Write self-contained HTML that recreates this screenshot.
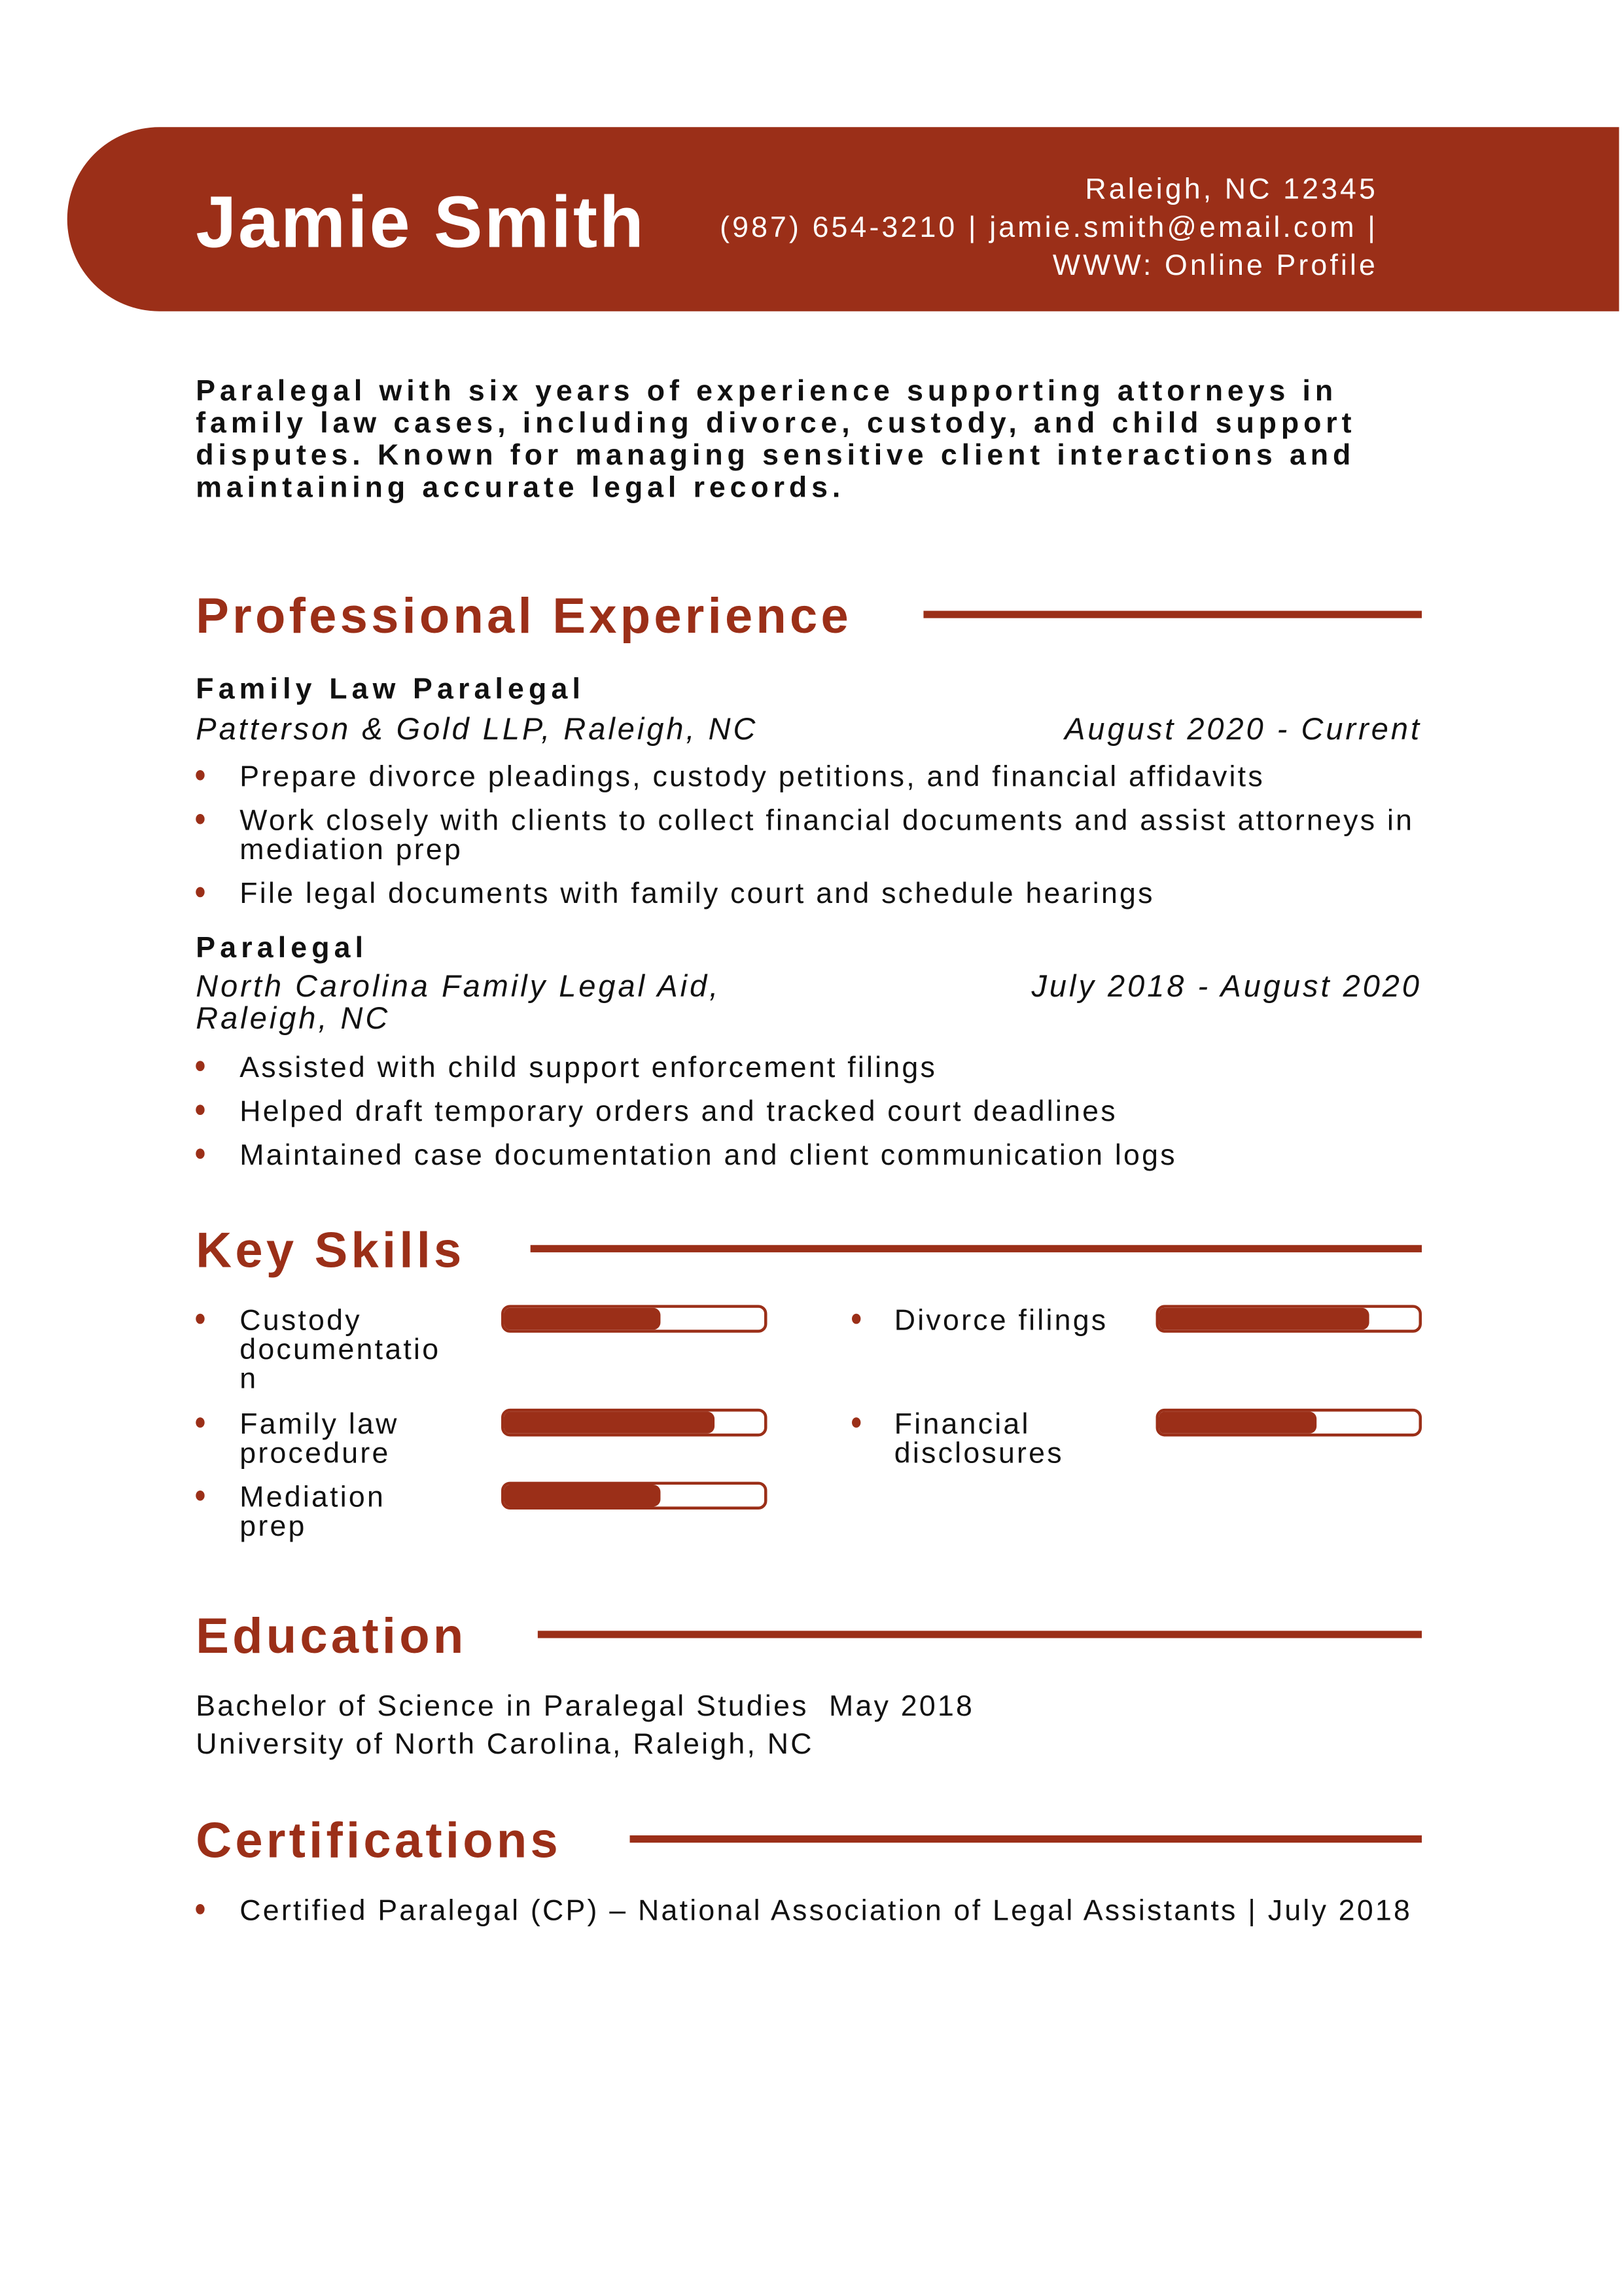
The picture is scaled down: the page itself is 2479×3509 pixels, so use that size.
<!DOCTYPE html>
<html><head><meta charset="utf-8"><style>
*{margin:0;padding:0;box-sizing:border-box}
html,body{width:2479px;height:3508px;background:#fff;overflow:hidden}
#w{position:absolute;left:0;top:0;width:1110px;height:1571px;transform:scale(2.2333);transform-origin:0 0;font-family:"Liberation Sans",sans-serif;color:#111}
.a{position:absolute;white-space:nowrap}
.band{position:absolute;left:46px;top:87px;width:1062px;height:126px;background:#9b2f18;border-radius:63px 0 0 63px}
.h{font-size:34px;line-height:34px;font-weight:bold;color:#9b2f18;letter-spacing:2.35px}
.ln{position:absolute;height:5px;background:#9b2f18}
.t{font-size:20px;line-height:20px;letter-spacing:1.45px}
.b{font-size:20px;line-height:20px;font-weight:bold;letter-spacing:3.2px}
.i{font-size:21px;line-height:22px;font-style:italic;letter-spacing:1.8px}
.d{position:absolute;width:6px;height:7px;border-radius:50%;background:#9b2f18}
.bar{position:absolute;width:182px;height:19px;border:2px solid #9b2f18;border-radius:6px;overflow:hidden}
.bar i{position:absolute;left:0;top:0;bottom:0;background:#9b2f18;border-radius:0 5px 5px 0}
</style></head><body><div id="w">
<div class="band"></div>
<div class="a" style="left:134px;top:127px;font-size:50px;line-height:50px;font-weight:bold;color:#fff;letter-spacing:1.2px">Jamie Smith</div>
<div class="a" style="right:167px;top:117px;font-size:20px;line-height:26px;color:#fff;text-align:right;letter-spacing:1.85px">Raleigh, NC 12345<br>(987) 654-3210 | jamie.smith@email.com |<br>WWW: Online Profile</div>
<div class="a" style="left:134px;top:257px;font-size:20px;line-height:22px;font-weight:bold;letter-spacing:3.1px">Paralegal with six years of experience supporting attorneys in<br>family law cases, including divorce, custody, and child support<br>disputes. Known for managing sensitive client interactions and<br>maintaining accurate legal records.</div>

<div class="a h" style="left:134px;top:405px">Professional Experience</div>
<div class="ln" style="left:632px;width:341px;top:418px"></div>
<div class="a b" style="left:134px;top:462px">Family Law Paralegal</div>
<div class="a i" style="left:134px;top:489px">Patterson &amp; Gold LLP, Raleigh, NC</div>
<div class="a i" style="right:137px;top:489px">August 2020 - Current</div>
<div class="d" style="left:134px;top:527px"></div><div class="a t" style="left:164px;top:522px">Prepare divorce pleadings, custody petitions, and financial affidavits</div>
<div class="d" style="left:134px;top:557px"></div><div class="a t" style="left:164px;top:552px">Work closely with clients to collect financial documents and assist attorneys in<br>mediation prep</div>
<div class="d" style="left:134px;top:607px"></div><div class="a t" style="left:164px;top:602px">File legal documents with family court and schedule hearings</div>
<div class="a b" style="left:134px;top:639px">Paralegal</div>
<div class="a i" style="left:134px;top:665px">North Carolina Family Legal Aid,<br>Raleigh, NC</div>
<div class="a i" style="right:137px;top:665px">July 2018 - August 2020</div>
<div class="d" style="left:134px;top:726px"></div><div class="a t" style="left:164px;top:721px">Assisted with child support enforcement filings</div>
<div class="d" style="left:134px;top:756px"></div><div class="a t" style="left:164px;top:751px">Helped draft temporary orders and tracked court deadlines</div>
<div class="d" style="left:134px;top:786px"></div><div class="a t" style="left:164px;top:781px">Maintained case documentation and client communication logs</div>

<div class="a h" style="left:134px;top:839px">Key Skills</div>
<div class="ln" style="left:363px;width:610px;top:852px"></div>
<div class="d" style="left:134px;top:899px"></div><div class="a t" style="left:164px;top:894px">Custody<br>documentatio<br>n</div>
<div class="bar" style="left:343px;top:893px"><i style="width:107px"></i></div>
<div class="d" style="left:583px;top:899px"></div><div class="a t" style="left:612px;top:894px">Divorce filings</div>
<div class="bar" style="left:791px;top:893px"><i style="width:144px"></i></div>
<div class="d" style="left:134px;top:970px"></div><div class="a t" style="left:164px;top:965px">Family law<br>procedure</div>
<div class="bar" style="left:343px;top:964px"><i style="width:144px"></i></div>
<div class="d" style="left:583px;top:970px"></div><div class="a t" style="left:612px;top:965px">Financial<br>disclosures</div>
<div class="bar" style="left:791px;top:964px"><i style="width:108px"></i></div>
<div class="d" style="left:134px;top:1020px"></div><div class="a t" style="left:164px;top:1015px">Mediation<br>prep</div>
<div class="bar" style="left:343px;top:1014px"><i style="width:107px"></i></div>

<div class="a h" style="left:134px;top:1103px">Education</div>
<div class="ln" style="left:368px;width:605px;top:1116px"></div>
<div class="a" style="left:134px;top:1155px;font-size:20px;line-height:26px;letter-spacing:1.45px">Bachelor of Science in Paralegal Studies&nbsp;&nbsp;May 2018<br>University of North Carolina, Raleigh, NC</div>

<div class="a h" style="left:134px;top:1243px">Certifications</div>
<div class="ln" style="left:431px;width:542px;top:1256px"></div>
<div class="d" style="left:134px;top:1303px"></div><div class="a t" style="left:164px;top:1298px">Certified Paralegal (CP) – National Association of Legal Assistants | July 2018</div>
</div></body></html>
